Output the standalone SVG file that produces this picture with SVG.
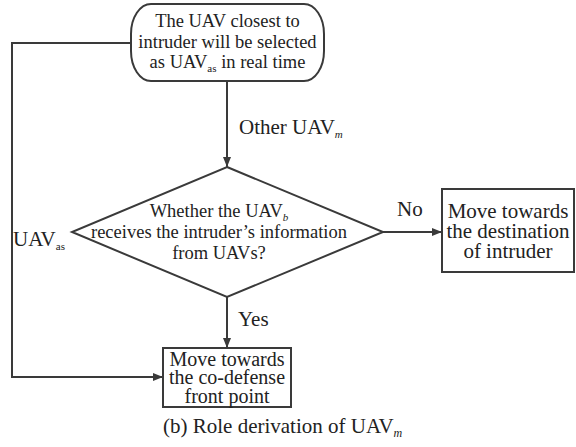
<svg xmlns="http://www.w3.org/2000/svg" width="576" height="447" viewBox="0 0 576 447">
<style>
.shape{fill:#fff;stroke:#3a3a3a;stroke-width:2}
.conn{fill:none;stroke:#3a3a3a;stroke-width:2}
text{font-family:"Liberation Serif","Times New Roman",serif;fill:#222}
.t18{font-size:18.5px}
.t20{font-size:20px}
.t21{font-size:21px}
.sub{font-size:11px}
.it{font-style:italic}
</style>
<defs>
<marker id="arr" markerWidth="10" markerHeight="8" refX="10" refY="4" orient="auto" markerUnits="userSpaceOnUse">
<path d="M0,0 L10,4 L0,8 z" fill="#3a3a3a"/>
</marker>
</defs>
<g id="connectors">
<path class="conn" d="M227,81 V167" marker-end="url(#arr)"/>
<path class="conn" d="M131,43 H12 V377 H163" marker-end="url(#arr)"/>
<path class="conn" d="M383,232 H442" marker-end="url(#arr)"/>
<path class="conn" d="M227,297 V348" marker-end="url(#arr)"/>
</g>
<g id="labels">
<text class="t21" x="239" y="134">Other UAV<tspan class="sub it" font-size="12" dy="4">m</tspan></text>
<text class="t21" x="397" y="216">No</text>
<text class="t21" x="238" y="326">Yes</text>
<text class="t21" x="13" y="246">UAV<tspan class="sub" dy="4">as</tspan></text>
</g>
<g id="start">
<rect class="shape" x="131" y="4" width="193" height="77" rx="20" ry="30"/>
<text class="t18" text-anchor="middle"><tspan x="227.5" y="27">The UAV closest to</tspan><tspan x="227.5" y="48">intruder will be selected</tspan><tspan x="227.5" y="68">as UAV<tspan class="sub" dy="4">as</tspan><tspan dy="-4"> in real time</tspan></tspan></text>
</g>
<g id="decision">
<path class="shape" d="M227,167 L383,232 L227,297 L72,232 Z"/>
<text class="t18" text-anchor="middle"><tspan x="219" y="217">Whether the UAV<tspan class="sub it" font-size="12" dy="4">b</tspan></tspan><tspan x="219" y="238">receives the intruder’s information</tspan><tspan x="219" y="259">from UAVs?</tspan></text>
</g>
<g id="destination">
<rect class="shape" x="442" y="189" width="132" height="83"/>
<text class="t21" text-anchor="middle" font-size="20.5"><tspan x="508" y="218">Move towards</tspan><tspan x="508" y="238">the destination</tspan><tspan x="508" y="258">of intruder</tspan></text>
</g>
<g id="codefense">
<rect class="shape" x="163" y="348" width="128" height="59"/>
<text class="t20" text-anchor="middle"><tspan x="227" y="365.5">Move towards</tspan><tspan x="227" y="384">the co-defense</tspan><tspan x="227" y="402.5">front point</tspan></text>
</g>
<g id="caption">
<text class="t21" x="163" y="433">(b) Role derivation of UAV<tspan class="it" font-size="12" dy="4">m</tspan></text>
</g>
</svg>
